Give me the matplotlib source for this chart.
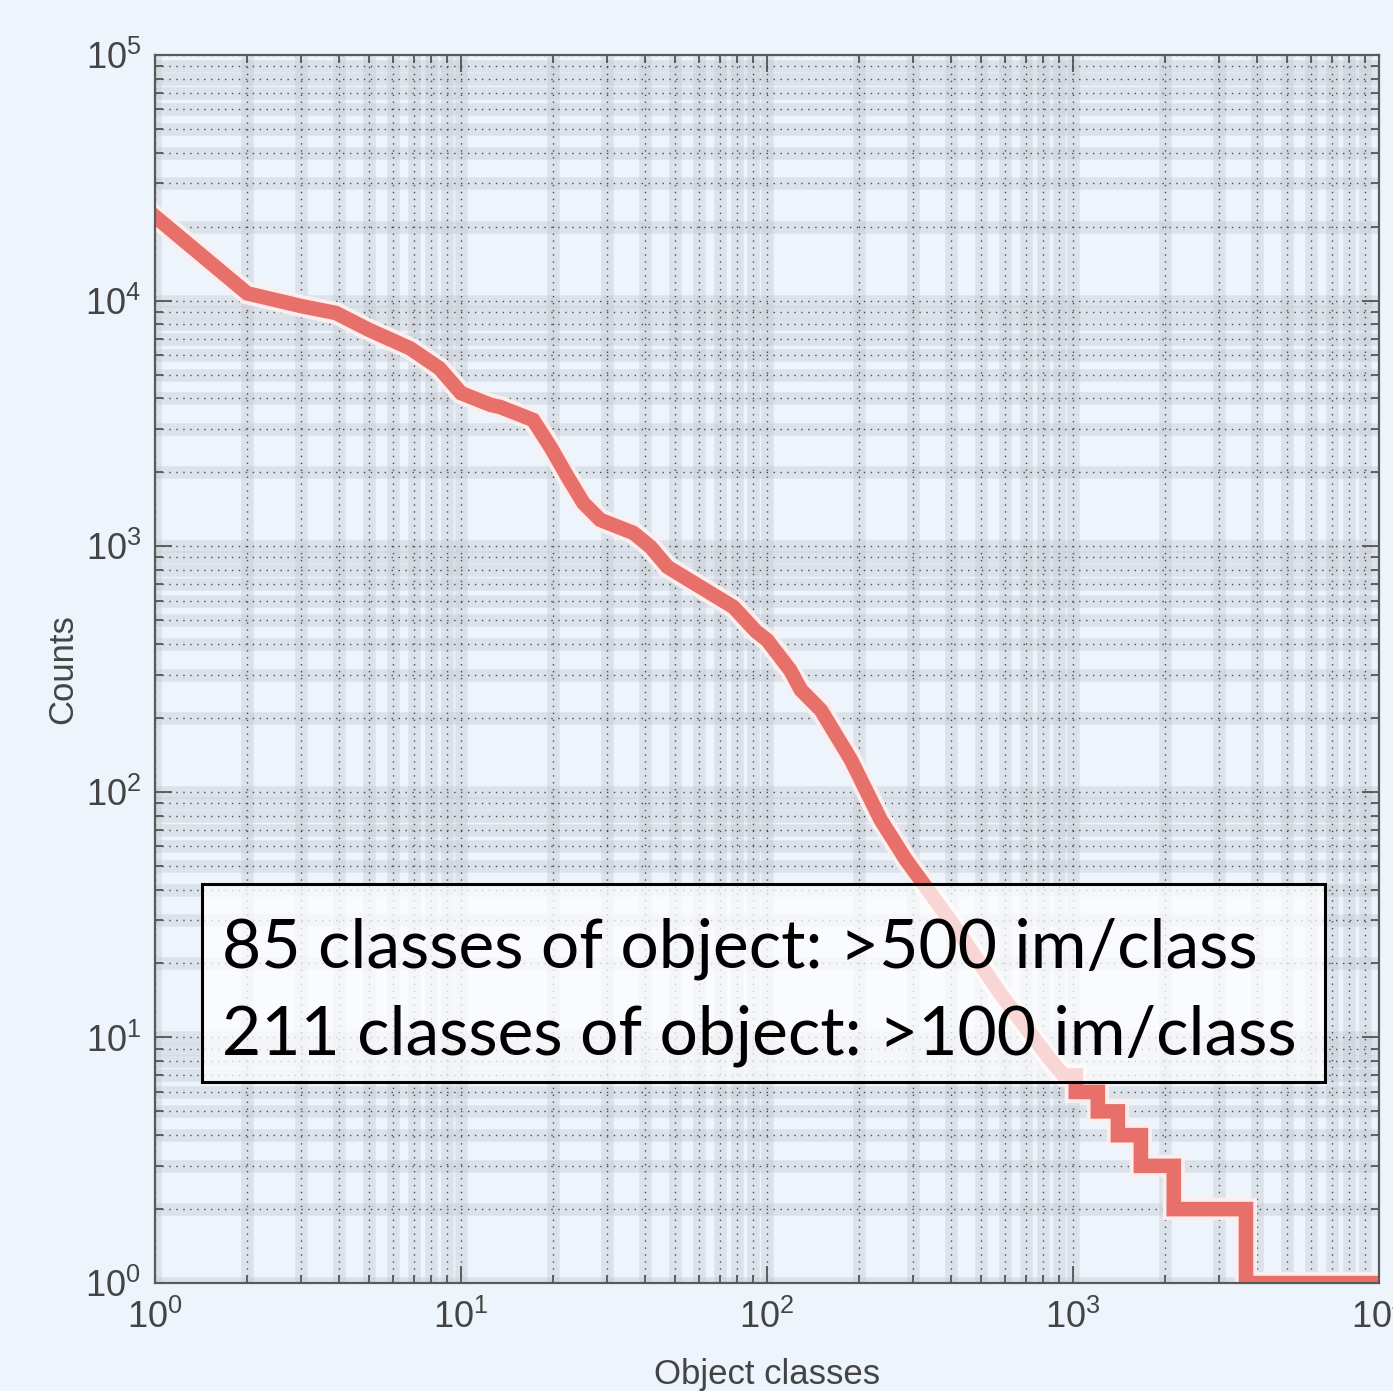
import matplotlib
matplotlib.use("Agg")
import matplotlib.pyplot as plt
from matplotlib.patches import Rectangle
import numpy as np

# rank of object class vs. number of images
head_classes = [1, 2, 3, 3.9, 5, 6.8, 8.5, 10, 12.5, 13.4, 17.2, 19.6, 22.3, 25.1,
                28.5, 36.6, 41.6, 47.3, 60.6, 77.7, 92, 100, 119, 129, 150, 188,
                235, 284, 356, 430, 580, 700, 850]
head_counts = [22000, 10700, 9500, 8900, 7600, 6400, 5300, 4200, 3760, 3690, 3265,
               2535, 1913, 1500, 1280, 1132, 993, 823, 682, 565, 450, 415, 313, 260,
               215, 135, 77, 53, 36, 26, 15, 11, 8]
# long tail: integer counts held over a range of classes
tail_classes = [933, 1021, 1205, 1401, 1666, 2134, 3673, 10000]
tail_counts = [7, 6, 5, 4, 3, 2, 1, 1]

x_label = "Object classes"
y_label = "Counts"
box_lines = ["85 classes of object: >500 im/class",
             "211 classes of object: >100 im/class"]

bg = "#eef4fc"
red = "#e8706a"
plt.rcParams["font.family"] = ["Liberation Sans", "DejaVu Sans"]

fig = plt.figure(figsize=(13.93, 13.91), dpi=100, facecolor=bg)
ax = fig.add_axes([0.1113, 0.0776, 0.8787, 0.8829])
ax.set_facecolor(bg)
ax.set_xscale("log")
ax.set_yscale("log")
ax.set_xlim(1, 1e4)
ax.set_ylim(1, 1e5)

# grid: light speckled band plus a dotted core
for k in range(4):
    for m in range(1, 10):
        ax.axvline(m * 10 ** k, color="#c3c8cf", lw=9, alpha=0.4, zorder=0.5)
for k in range(5):
    for m in range(1, 10):
        ax.axhline(m * 10 ** k, color="#c3c8cf", lw=9, alpha=0.4, zorder=0.5)
ax.grid(which="both", color="#4a4a4a", lw=1.0, linestyle=(0, (1, 4)), zorder=0.6)

# build stair-step tail from the held counts
sx = np.repeat(tail_classes, 2)[1:]
sy = np.repeat(tail_counts, 2)[:-1]
xs = np.concatenate([head_classes, sx])
ys = np.concatenate([head_counts, sy])
ax.plot(xs, ys, color="#fbeeee", lw=16, solid_joinstyle="miter", zorder=2)
ax.plot(xs, ys, color=red, lw=10.5, solid_joinstyle="miter", zorder=2.1)

for s in ax.spines.values():
    s.set_color("#5a5a5a")
    s.set_linewidth(1.6)
ax.tick_params(which="both", direction="in", top=True, right=True,
               color="#555555", width=1.3, labelcolor="#444444")
ax.tick_params(which="major", length=12, labelsize=26)
ax.tick_params(which="minor", length=6, labelbottom=False, labelleft=False)
ax.tick_params(axis="x", pad=12)
ax.tick_params(axis="y", pad=10)

ax.set_xlabel(x_label, fontsize=25, color="#444444", labelpad=16)
ax.set_ylabel(y_label, fontsize=25, color="#444444", labelpad=4)

# annotation box
fig.patches.append(Rectangle((0.1450, 0.2221), 0.8062, 0.1423,
                             transform=fig.transFigure, facecolor="white",
                             alpha=0.72, edgecolor="none", zorder=5))
fig.patches.append(Rectangle((0.1450, 0.2221), 0.8062, 0.1423,
                             transform=fig.transFigure, facecolor="none",
                             edgecolor="black", lw=2.2, zorder=6))
fig.canvas.draw()
r = fig.canvas.get_renderer()
t1 = fig.text(0.1594, 0.3041, box_lines[0], fontsize=44, va="baseline",
              family=["Lato", "DejaVu Sans"], color="black", zorder=7)
t2 = fig.text(0.1594, 0.2416, box_lines[1], fontsize=44, va="baseline",
              family=["Lato", "DejaVu Sans"], color="black", zorder=7)
w = t1.get_window_extent(r).width
scale = 1038.0 / w
t1.set_fontsize(44 * scale)
t2.set_fontsize(44 * scale)

fig.savefig("out.png", dpi=100, facecolor=bg)
